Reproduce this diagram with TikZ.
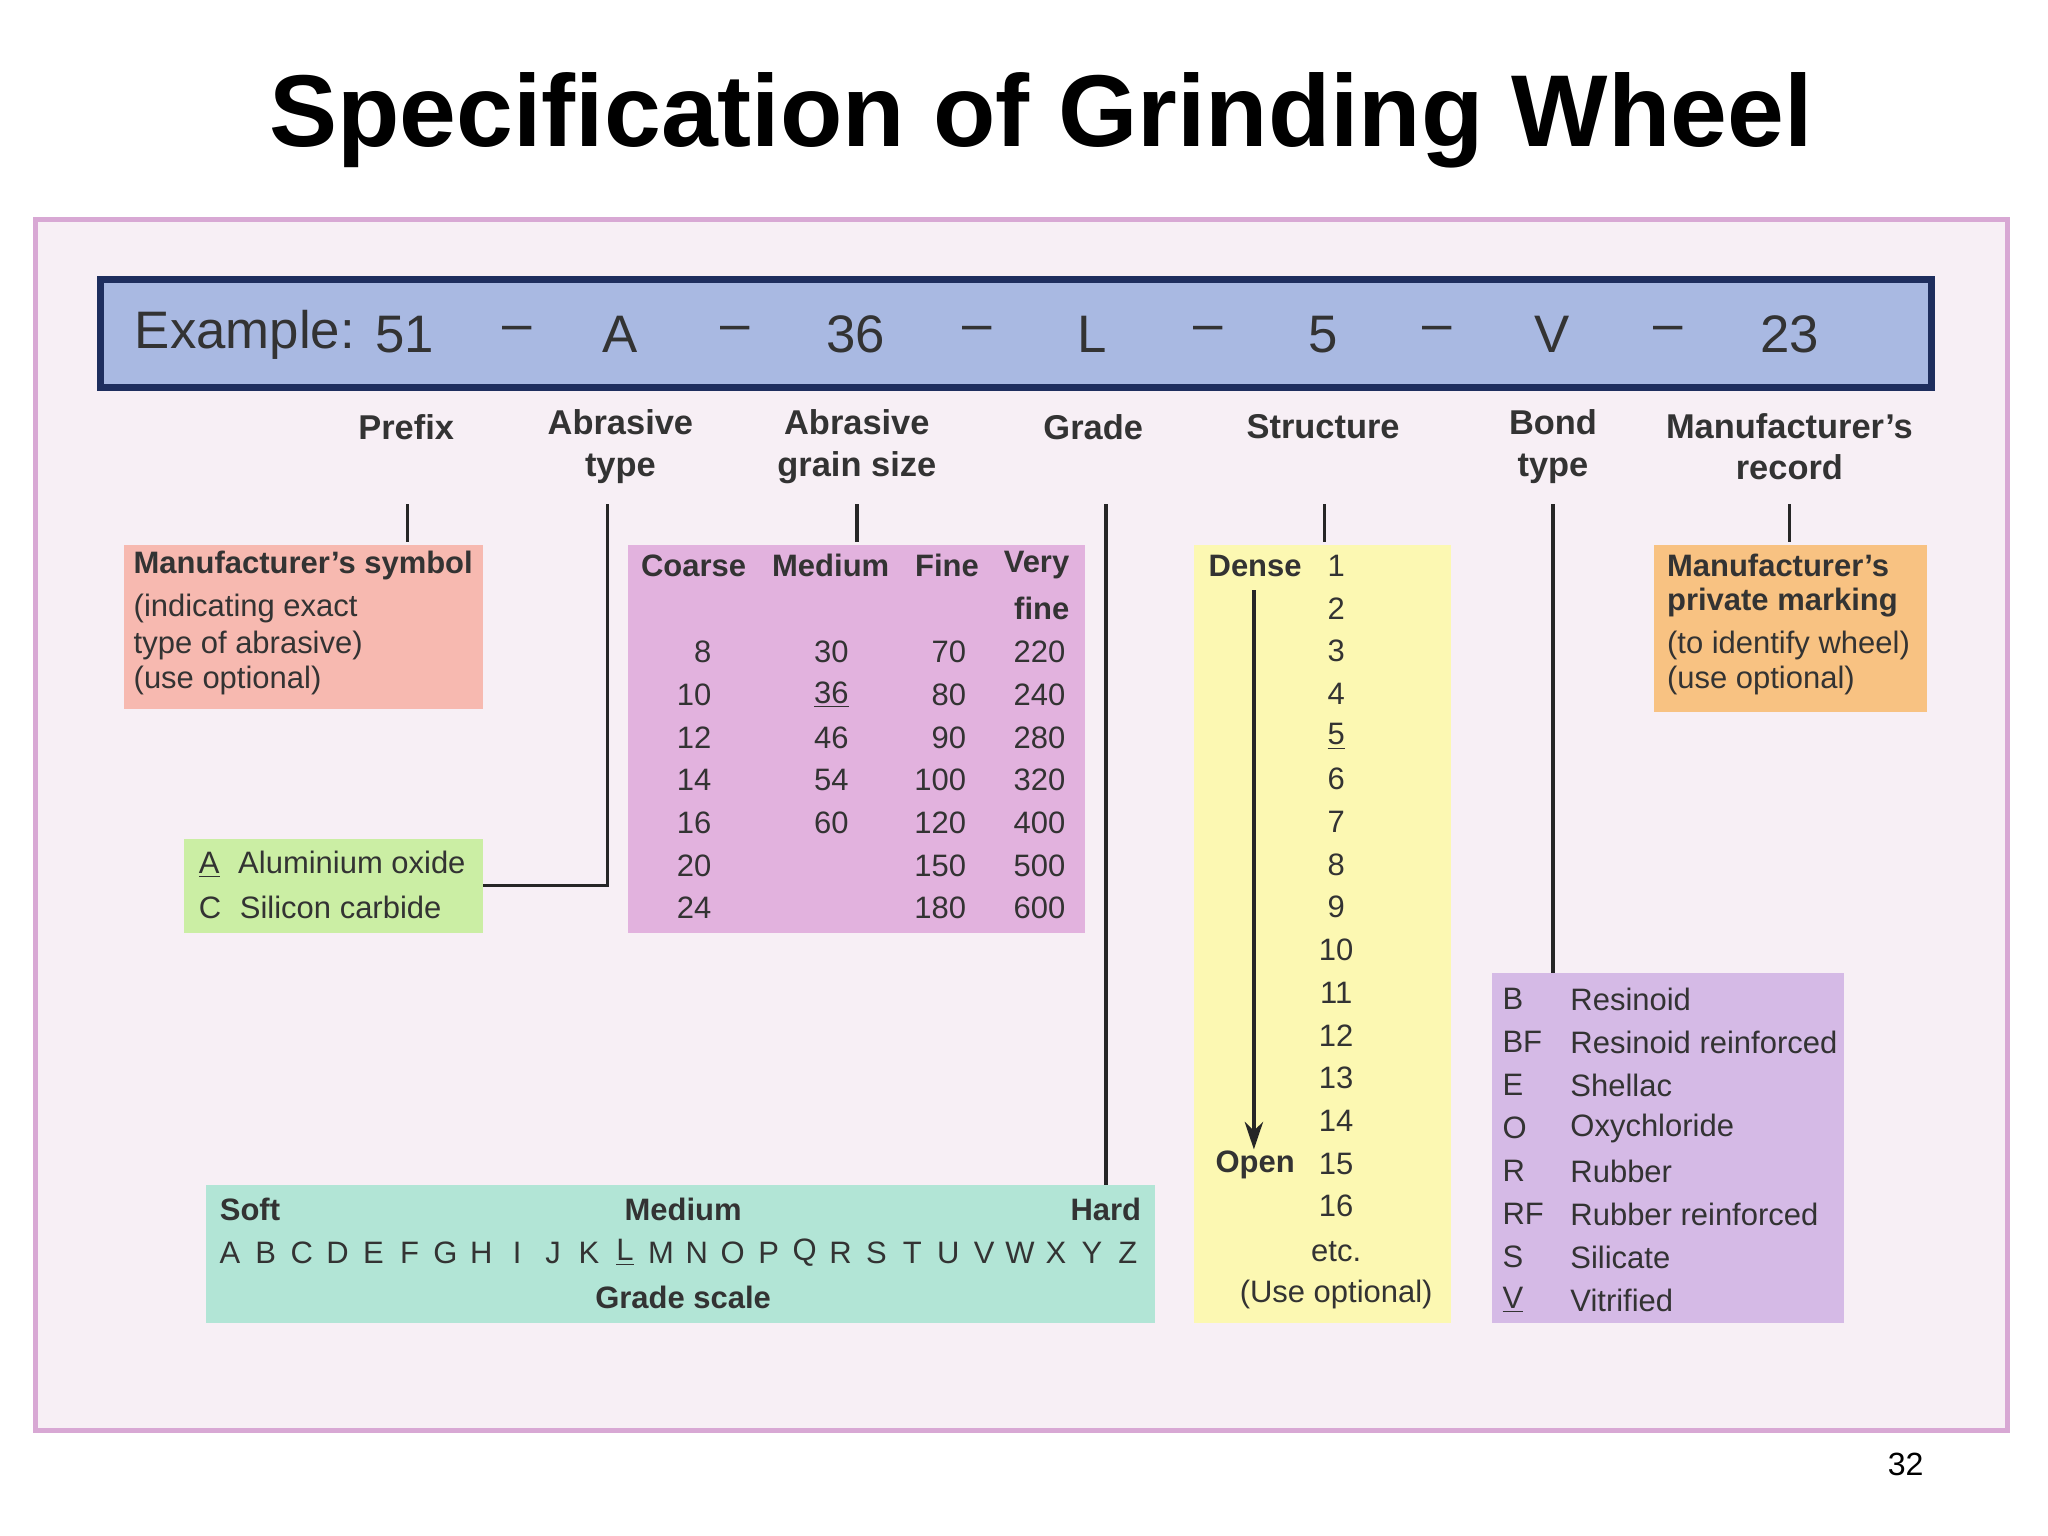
\documentclass[tikz,border=0pt]{standalone}
\usepackage{fontspec}
\setmainfont{Liberation Sans}
\usetikzlibrary{arrows.meta}
\definecolor{frame}{HTML}{D8A8D4}
\definecolor{bgc}{HTML}{F7EFF5}
\definecolor{bar}{HTML}{A9B9E2}
\definecolor{navy}{HTML}{1E2E5E}
\definecolor{salmon}{HTML}{F7B9B0}
\definecolor{lgreen}{HTML}{CBEEA4}
\definecolor{pinkb}{HTML}{E2B2DE}
\definecolor{teal}{HTML}{B2E5D6}
\definecolor{yel}{HTML}{FCF8B2}
\definecolor{lav}{HTML}{D5BAE6}
\definecolor{orng}{HTML}{F8C282}
\definecolor{txt}{HTML}{333333}
\tikzset{
 box/.style={draw=none},
 bt/.style={font=\fontsize{13.5}{16}\selectfont, text=txt, inner sep=0pt},
 bb/.style={bt, font=\fontsize{13.5}{16}\selectfont\bfseries},
 lab/.style={font=\fontsize{15}{18}\selectfont\bfseries, text=txt, align=center, inner sep=0pt},
 ex/.style={font=\fontsize{23}{26}\selectfont, text=txt, inner sep=0pt},
 ln/.style={line width=1.6pt, draw=black!85},
}
\newcommand{\ul}[1]{\underline{#1}}
\begin{document}
\begin{tikzpicture}[x=0.02cm,y=-0.02cm]
\useasboundingbox (0,0) rectangle (1568,1176);
\fill[white] (0,0) rectangle (1568,1176);
\node[font=\fontsize{44.5}{48}\selectfont\bfseries] (title) at (797,92) {Specification of Grinding Wheel};
\draw[frame, line width=2pt, fill=bgc] (27,168) rectangle (1537,1095);
\draw[navy, line width=3pt, fill=bar] (77,214) rectangle (1479,297);
\node[ex, anchor=west] (exl) at (103,256) {Example:};
\foreach \x/\t/\n in {310/51/e1,396/–/d1,475/A/e2,563/–/d2,655/36/e3,748/–/d3,836/L/e4,925/–/d4,1013/5/e5,1100/–/d5,1188/V/e6,1277/–/d6,1370/23/e7}
  \node[ex] (\n) at (\x,256) {\t};
% labels
\node[lab] (lp) at (311,327) {Prefix};
\node[lab] (la) at (475,342) {Abrasive\\type};
\node[lab] (lg) at (656,342) {Abrasive\\grain size};
\node[lab] (lgr) at (837,327) {Grade};
\node[lab] (ls) at (1013,327) {Structure};
\node[lab] (lb) at (1189,342) {Bond\\type};
\node[lab] (lm) at (1370,342) {Manufacturer’s\\record};
% boxes
\fill[salmon] (95,417) rectangle (370,543);
\fill[lgreen] (141,642) rectangle (370,714);
\fill[pinkb] (481,417) rectangle (831,714);
\fill[teal] (158,907) rectangle (884,1013);
\fill[yel] (914,417) rectangle (1111,1013);
\fill[lav] (1142,745) rectangle (1412,1013);
\fill[orng] (1266,417) rectangle (1475,545);
% connector coordinates
\coordinate (p1) at (312,386); \coordinate (p2) at (312,415);
\coordinate (a1) at (465,386); \coordinate (a2) at (465,678); \coordinate (a3) at (370,678);
\coordinate (g1) at (656,386); \coordinate (g2) at (656,415);
\coordinate (r1) at (847,386); \coordinate (r2) at (847,907);
\coordinate (s1) at (1014,386); \coordinate (s2) at (1014,415);
\coordinate (b1) at (1189,386); \coordinate (b2) at (1189,745);
\coordinate (m1) at (1370,386); \coordinate (m2) at (1370,415);
\draw[ln] (p1)--(p2); \draw[ln] (a1)--(a2)--(a3); \draw[ln] (g1)--(g2);
\draw[ln] (r1)--(r2); \draw[ln] (s1)--(s2); \draw[ln] (b1)--(b2); \draw[ln] (m1)--(m2);
% manufacturer's symbol
\node[bb,anchor=west] (ms1) at (102,433) {Manufacturer’s symbol};
\node[bt,anchor=west] (ms2) at (102,466) {(indicating exact};
\node[bt,anchor=west] (ms3) at (102,494) {type of abrasive)};
\node[bt,anchor=west] (ms4) at (102,521) {(use optional)};
% abrasive type
\node[bt,anchor=west] (at1) at (152,662) {\ul{A}\hspace{0.6em}Aluminium oxide};
\node[bt,anchor=west] (at2) at (152,695) {C\hspace{0.6em}Silicon carbide};
% grain size
\node[bb] (h1) at (531,433) {Coarse};
\node[bb] (h2) at (636,433) {Medium};
\node[bb] (h3) at (725,433) {Fine};
\node[bb,anchor=east] (h4) at (819,433) {Very};
\node[bb,anchor=east] (h5) at (819,466) {fine};
\foreach \y/\a/\b/\c/\d [count=\i] in {499/8/30/70/220,532/10/\ul{36}/80/240,565/12/46/90/280,597/14/54/100/320,630/16/60/120/400,663/20//150/500,695/24//180/600}{
  \node[bt,anchor=east] (ca\i) at (545,\y) {\a};
  \node[bt,anchor=east] (cb\i) at (650,\y) {\b};
  \node[bt,anchor=east] (cc\i) at (740,\y) {\c};
  \node[bt,anchor=east] (cd\i) at (816,\y) {\d};
}
% grade
\node[bb,anchor=west] (soft) at (168,926) {Soft};
\node[bb] (med) at (523,926) {Medium};
\node[bb,anchor=east] (hard) at (874,926) {Hard};
\foreach \l [count=\i] in {A,B,C,D,E,F,G,H,I,J,K,\ul{L},M,N,O,P,Q,R,S,T,U,V,W,X,Y,Z}
  \node[bt] (gl\i) at ({176+(\i-1)*27.5},959) {\l};
\node[bb] (gs) at (523,993) {Grade scale};
% structure
\node[bb,anchor=west] (dense) at (925,433) {Dense};
\foreach \n [count=\i] in {1,2,3,4,\ul{5},6,7,8,9,10,11,12,13,14,15,16}
  \node[bt] (sn\i) at (1023,{433+(\i-1)*32.7}) {\n};
\node[bt] (etc) at (1023,958) {etc.};
\node[bt] (uo) at (1023,991) {(Use optional)};
\coordinate (ar1) at (960,452); \coordinate (ar2) at (960,880);
\draw[ln, -{Stealth[length=12pt,width=8pt]}] (ar1)--(ar2);
\node[bb] (open) at (961,892) {Open};
% bond
\foreach \c/\t [count=\i] in {B/Resinoid,BF/Resinoid reinforced,E/Shellac,O/Oxychloride,R/Rubber,RF/Rubber reinforced,S/Silicate,\ul{V}/Vitrified}{
  \node[bt,anchor=west] (bc\i) at (1150,{765+(\i-1)*32.9}) {\c};
  \node[bt,anchor=west] (bn\i) at (1202,{765+(\i-1)*32.9}) {\t};
}
% record
\node[bb,anchor=west] (mr1) at (1276,433) {Manufacturer’s};
\node[bb,anchor=west] (mr2) at (1276,461) {private marking};
\node[bt,anchor=west] (mr3) at (1276,494) {(to identify wheel)};
\node[bt,anchor=west] (mr4) at (1276,521) {(use optional)};
\node[font=\fontsize{14}{16}\selectfont] (pg) at (1459,1121) {32};
\end{tikzpicture}
\end{document}
